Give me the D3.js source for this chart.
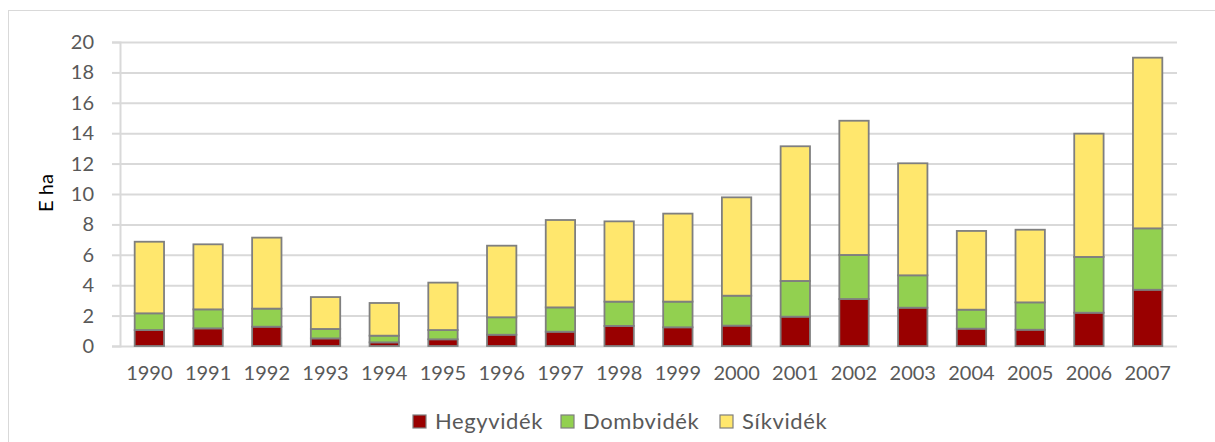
<!DOCTYPE html>
<html><head><meta charset="utf-8">
<script src="https://cdn.jsdelivr.net/npm/d3@7"></script>
<style>body{margin:0;background:#fff}svg{display:block}</style>
</head><body>
<script>
const years = ["1990","1991","1992","1993","1994","1995","1996","1997","1998","1999","2000","2001","2002","2003","2004","2005","2006","2007"];
const hegyvidek = [1.05,1.16,1.27,0.50,0.24,0.44,0.74,0.94,1.32,1.23,1.34,1.93,3.09,2.52,1.14,1.07,2.19,3.70];
const dombvidek = [1.10,1.25,1.19,0.62,0.44,0.61,1.15,1.60,1.60,1.69,1.97,2.35,2.90,2.13,1.25,1.80,3.67,4.04];
const sikvidek  = [4.71,4.28,4.67,2.10,2.15,3.12,4.71,5.75,5.28,5.79,6.47,8.86,8.83,7.37,5.18,4.78,8.11,11.23];
const seriesNames = ["Hegyvidék","Dombvidék","Síkvidék"];
const colors = ["#990000","#92D050","#FFE76D"];
const yTicks = [0,2,4,6,8,10,12,14,16,18,20];
const yLabel = "E ha";

(function(){
const W = 1215, H = 442;
const svg = d3.select("body").append("svg").attr("width", W).attr("height", H);
svg.append("rect").attr("x",8.5).attr("y",10.5).attr("width",W+20).attr("height",H+20)
  .attr("fill","#fff").attr("stroke","#d9d9d9").attr("stroke-width",1);

const mLeft = 120, mRight = 1177, mTop = 42, mBottom = 346;
const x = d3.scaleBand().domain(years).range([mLeft,mRight]).paddingInner(0.5).paddingOuter(0.25);
const y = d3.scaleLinear().domain([0,20]).range([mBottom,mTop]);

const rows = years.map((yr,i)=>({year:yr, "Hegyvidék":hegyvidek[i], "Dombvidék":dombvidek[i], "Síkvidék":sikvidek[i]}));
const stacked = d3.stack().keys(seriesNames)(rows);

const font = "Lato, 'Open Sans', sans-serif";

// grid
const gridAxis = d3.axisLeft(y).tickValues(yTicks).tickSize(-(mRight-mLeft)).tickFormat("");
const gg = svg.append("g").attr("transform",`translate(${mLeft},0)`).call(gridAxis);
gg.select(".domain").remove();
gg.selectAll("line").attr("stroke","#d9d9d9").attr("stroke-width",2);

// y axis
const ya = d3.axisLeft(y).tickValues(yTicks).tickSize(8).tickPadding(18);
const yg = svg.append("g").attr("transform",`translate(${mLeft},0)`).call(ya);
yg.select(".domain").attr("stroke","#d9d9d9").attr("stroke-width",2);
yg.selectAll("line").attr("stroke","#d9d9d9").attr("stroke-width",2);
yg.selectAll("text").attr("fill","#595959").style("font-family",font).style("font-size","20px");

// x labels
const xa = d3.axisBottom(x).tickSize(0).tickPadding(20);
const xg = svg.append("g").attr("transform",`translate(0,${mBottom})`).call(xa);
xg.select(".domain").remove();
xg.selectAll("text").attr("fill","#595959").style("font-family",font).style("font-size","20px");

// bars
svg.append("g").selectAll("g").data(stacked).join("g")
  .attr("fill",(d,i)=>colors[i])
  .selectAll("rect").data(d=>d).join("rect")
  .attr("x",d=>x(d.data.year))
  .attr("width",x.bandwidth())
  .attr("y",d=>y(d[1]))
  .attr("height",d=>y(d[0])-y(d[1]))
  .attr("stroke","#7f7f7f").attr("stroke-width",1.8);

// y label
svg.append("text").attr("transform","translate(53,193) rotate(-90)")
  .attr("text-anchor","middle").attr("fill","#000")
  .style("font-family",font).style("font-size","20px").text(yLabel);

// legend
const legX = [413, 561, 720];
const lg = svg.append("g").selectAll("g").data(seriesNames).join("g")
  .attr("transform",(d,i)=>`translate(${legX[i]},415)`);
lg.append("rect").attr("width",13).attr("height",13).attr("fill",(d,i)=>colors[i])
  .attr("stroke","#7f7f7f").attr("stroke-width",1.2);
lg.append("text").attr("x",22).attr("y",14).attr("fill","#595959")
  .style("font-family",font).style("font-size","22px").style("letter-spacing","0.6px").text(d=>d);
})();
</script>
</body></html>
